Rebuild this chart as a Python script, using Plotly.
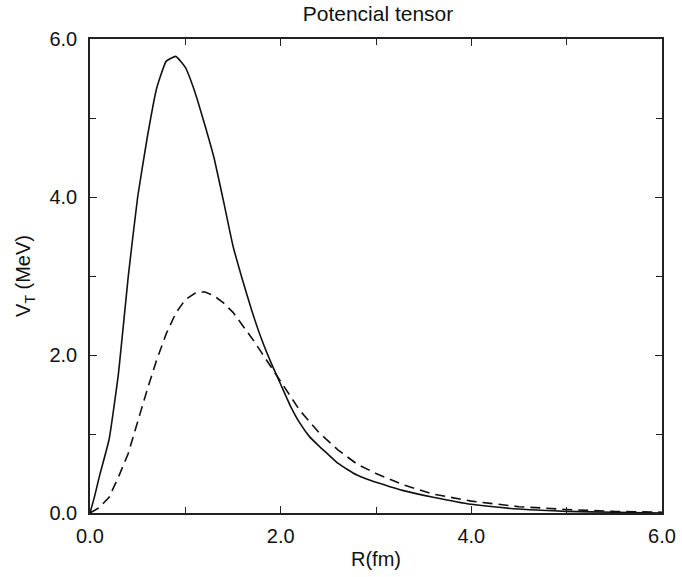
import plotly.graph_objects as go

# Solid curve
x_solid = [0, 0.05, 0.1, 0.2, 0.3, 0.4, 0.5, 0.6, 0.7, 0.8, 0.9, 1.0, 1.1, 1.2, 1.3, 1.4, 1.5,
           1.6, 1.7, 1.8, 1.9, 2.0, 2.1, 2.2, 2.3, 2.4, 2.5, 2.6, 2.7, 2.8, 2.9, 3.0, 3.3, 3.6, 4.0,
           4.5, 5.0, 5.5, 6.0]
y_solid = [0, 0.22, 0.47, 0.93, 1.78, 2.98, 4.0, 4.75, 5.38, 5.72, 5.78, 5.64, 5.33, 4.93, 4.5, 3.95, 3.38,
           2.95, 2.55, 2.2, 1.9, 1.63, 1.36, 1.14, 0.97, 0.85, 0.74, 0.63, 0.55, 0.48, 0.43, 0.39, 0.28, 0.2, 0.11,
           0.05, 0.02, 0.01, 0.0]

# Dashed curve
x_dash = [0, 0.1, 0.2, 0.3, 0.4, 0.5, 0.6, 0.7, 0.8, 0.9, 1.0, 1.1, 1.2, 1.3, 1.4, 1.5, 1.6, 1.7,
          1.8, 1.9, 2.0, 2.2, 2.4, 2.6, 2.8, 3.0, 3.3, 3.6, 4.0, 4.5, 5.0, 5.5, 6.0]
y_dash = [0, 0.07, 0.2, 0.46, 0.75, 1.16, 1.56, 1.94, 2.27, 2.53, 2.7, 2.78, 2.8, 2.75, 2.66, 2.54, 2.38, 2.21,
          2.03, 1.85, 1.67, 1.3, 1.02, 0.8, 0.62, 0.5, 0.35, 0.24, 0.15, 0.08, 0.045, 0.02, 0.01]

x_ticks = [0, 2, 4, 6]
x_ticklabels = ["0.0", "2.0", "4.0", "6.0"]
y_ticks = [0, 2, 4, 6]
y_ticklabels = ["0.0", "2.0", "4.0", "6.0"]

fig = go.Figure()
fig.add_trace(go.Scatter(x=x_solid, y=y_solid, mode="lines",
                         line=dict(color="#111111", width=1.6, shape="spline", smoothing=0.4),
                         showlegend=False))
fig.add_trace(go.Scatter(x=x_dash, y=y_dash, mode="lines",
                         line=dict(color="#111111", width=1.6, dash="10px,6px"), showlegend=False))

font = "Liberation Sans, Arial, Helvetica, sans-serif"
axis_common = dict(
    showgrid=False, zeroline=False, showline=True, linecolor="#222222", linewidth=1.6,
    mirror="allticks", ticks="inside", ticklen=7, tickwidth=1.2, tickcolor="#222222",
    tickfont=dict(family=font, size=20, color="#111111"),
    minor=dict(dtick=1, ticks="inside", ticklen=6, tickcolor="#222222", tickwidth=1.2),
)

L, R, T, B = 90, 20, 39, 64
fig.update_layout(
    width=682, height=577,
    margin=dict(l=L, r=R, t=T, b=B, autoexpand=False),
    paper_bgcolor="white", plot_bgcolor="white",
    title=dict(text="Potencial tensor", x=378 / 682, xanchor="center",
               y=1 - 14 / 577, yanchor="middle",
               font=dict(family=font, size=21, color="#111111")),
    xaxis=dict(range=[0, 6], tickvals=x_ticks, ticktext=x_ticklabels, ticklabelstandoff=4,
               title=dict(text="R(fm)", font=dict(family=font, size=20, color="#111111"), standoff=6),
               **axis_common),
    yaxis=dict(range=[0, 6], tickvals=y_ticks, ticktext=y_ticklabels, ticklabelstandoff=7,
               title=dict(text="V<sub>T</sub> (MeV)", font=dict(family=font, size=20, color="#111111"), standoff=13),
               **axis_common),
)

fig.write_html("out.html")
